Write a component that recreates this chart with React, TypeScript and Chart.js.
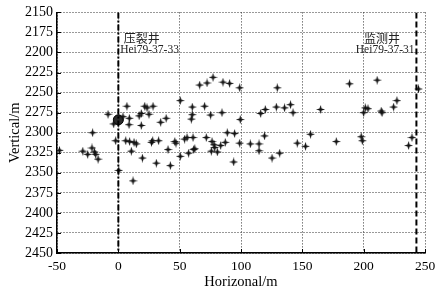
import React, { useEffect, useRef } from "react";
import { Chart, registerables } from "chart.js";

Chart.register(...registerables);

const xTicks = [-50, 0, 50, 100, 150, 200, 250];
const yTicks = [2150, 2175, 2200, 2225, 2250, 2275, 2300, 2325, 2350, 2375, 2400, 2425, 2450];

const eventsX = [
  -48, -29, -25, -21.5, -19.5, -18.5, -16.5, -21, -8.4, -3.8, 3.8, 7, 9, 8.7, 17, 18.7, 21.5, 23.4, 25, 28.3,
  18.7, 34.5, 39, 50.5, -2.2, 6, 9.2, 12.8, 14.7, 27, 28, 32.8, 46, 47, 54, 56, 10.6, 19.6, 40.5, 31,
  42.4, 50.5, 0.3, 12, 66.3, 72.3, 77.2, 85.3, 90.7, 98.9, 129.6, 60.3, 70.3, 60.3, 59.5, 75.2, 84.5, 99.4, 116, 119.8,
  128.8, 135.5, 140.4, 142.4, 60.9, 57.3, 61.4, 62.3, 71.7, 76.4, 78, 78.5, 75.8, 80.7, 83.4, 87.2, 88.8, 94.8, 98.9, 94,
  107.6, 114.7, 114.7, 119.2, 125.3, 131.5, 145.9, 152.6, 156.7, 188.5, 211, 244.7, 164.9, 201.3, 203.5, 200, 214.3, 215, 224.4, 227.1,
  177.7, 198, 198.9, 239.4, 236.6,
];
const eventsY = [
  2322, 2323, 2327, 2319, 2324, 2327, 2333, 2300, 2277, 2289, 2280, 2267, 2282, 2290, 2279, 2276, 2267, 2269, 2277, 2267,
  2291, 2287, 2282, 2260, 2310, 2310, 2311, 2312, 2314, 2312, 2310, 2310, 2311, 2313, 2308, 2306, 2323, 2331.6, 2321, 2338,
  2341, 2329.5, 2347, 2360, 2240.6, 2238, 2231, 2237, 2238.5, 2244, 2244, 2268, 2267, 2277.5, 2283, 2278, 2275, 2283.6, 2276, 2271,
  2268, 2269, 2265, 2275, 2306, 2325.5, 2321, 2320, 2306, 2311, 2315, 2318.5, 2323, 2324, 2316, 2312, 2300, 2301, 2313, 2336.5,
  2314, 2314, 2322.5, 2304, 2331.6, 2325.5, 2313, 2317, 2302, 2239, 2234.5, 2245.5, 2271, 2269, 2270, 2275, 2273, 2275, 2268, 2260,
  2311, 2305, 2310, 2306, 2316,
];

const fracWellX = [0];
const fracWellY = [2284];
const wellLineY = [2150, 2450];
const fracLineX = 0;
const monitorLineX = 243;

const labelTexts = ["压裂井", "Hei79-37-33", "监测井", "Hei79-37-31"];
const labelX = [19, 1.5, 215, 241.5];
const labelY = [2182, 2196.5, 2182, 2196.5];

const SERIF = "'Liberation Serif', 'Times New Roman', serif";
const CJK = "'Noto Sans CJK SC', sans-serif";

function makeStar(): HTMLCanvasElement {
  const c = document.createElement("canvas");
  c.width = 9;
  c.height = 9;
  const g = c.getContext("2d")!;
  const cx = 4.5, cy = 4.5, R = 4.5, r = 1.5;
  g.beginPath();
  for (let i = 0; i < 8; i++) {
    const a = (i * Math.PI) / 4 - Math.PI / 2;
    const rad = i % 2 === 0 ? R : r;
    const px = cx + rad * Math.cos(a);
    const py = cy + rad * Math.sin(a);
    if (i === 0) g.moveTo(px, py);
    else g.lineTo(px, py);
  }
  g.closePath();
  g.fillStyle = "#111";
  g.fill();
  return c;
}

const overlayPlugin = {
  id: "overlay",
  afterDatasetsDraw(chart: any) {
    const ctx = chart.ctx;
    const xs = chart.scales.x;
    const ys = chart.scales.y;
    const area = chart.chartArea;
    ctx.save();
    ctx.strokeStyle = "#000";
    ctx.lineWidth = 1;
    ctx.beginPath();
    xTicks.forEach((v) => {
      const p = Math.round(xs.getPixelForValue(v)) + 0.5;
      ctx.moveTo(p, area.bottom);
      ctx.lineTo(p, area.bottom - 4);
    });
    yTicks.forEach((v) => {
      const p = Math.round(ys.getPixelForValue(v)) + 0.5;
      ctx.moveTo(area.left, p);
      ctx.lineTo(area.left + 4, p);
    });
    ctx.stroke();
    ctx.fillStyle = "#222";
    ctx.textBaseline = "middle";
    labelTexts.forEach((t, i) => {
      const isCjk = i % 2 === 0;
      ctx.font = isCjk ? `12px ${CJK}` : `11.5px ${SERIF}`;
      ctx.textAlign = isCjk ? "center" : i === 1 ? "left" : "right";
      ctx.fillText(t, xs.getPixelForValue(labelX[i]), ys.getPixelForValue(labelY[i]));
    });
    ctx.restore();
  },
};

export default function App() {
  const ref = useRef<HTMLCanvasElement>(null);
  useEffect(() => {
    const star = makeStar();
    const points = eventsX.map((x, i) => ({ x, y: eventsY[i] }));
    const chart = new Chart(ref.current!, {
      type: "scatter",
      data: {
        datasets: [
          {
            type: "line",
            data: wellLineY.map((y) => ({ x: fracLineX, y })),
            borderColor: "#000",
            borderWidth: 2,
            borderDash: [6, 2, 2, 2],
            pointRadius: 0,
            showLine: true,
            fill: false,
          },
          {
            type: "line",
            data: wellLineY.map((y) => ({ x: monitorLineX, y })),
            borderColor: "#000",
            borderWidth: 2,
            borderDash: [6, 3],
            pointRadius: 0,
            showLine: true,
            fill: false,
          },
          {
            data: points,
            pointStyle: star as any,
            pointRadius: 4.5,
            showLine: false,
          },
          {
            data: fracWellX.map((x, i) => ({ x, y: fracWellY[i] })),
            pointStyle: "circle",
            pointRadius: 5,
            backgroundColor: "#2a2a2a",
            borderColor: "#000",
            borderWidth: 1,
          },
        ],
      },
      options: {
        animation: false,
        responsive: false,
        layout: { padding: { top: 9, right: 18, left: 0, bottom: 0 } },
        plugins: { legend: { display: false }, tooltip: { enabled: false } },
        scales: {
          x: {
            type: "linear",
            min: -50,
            max: 250,
            afterBuildTicks: (s: any) => {
              s.ticks = xTicks.map((v) => ({ value: v }));
            },
            afterFit: (s: any) => {
              s.height = 44;
            },
            grid: { color: "#333", lineWidth: 1, drawTicks: false },
            border: { display: true, color: "#000", width: 1.5, dash: [1, 2] },
            ticks: {
              color: "#000",
              padding: 5.6,
              font: { family: SERIF, size: 13.5 },
              callback: (v: any) => String(v),
            },
            title: {
              display: true,
              text: "Horizonal/m",
              color: "#000",
              font: { family: SERIF, size: 14.5, lineHeight: 1.2 },
              padding: { top: 0, bottom: 6.6 },
            },
          },
          y: {
            type: "linear",
            reverse: true,
            min: 2150,
            max: 2450,
            afterBuildTicks: (s: any) => {
              s.ticks = yTicks.map((v) => ({ value: v }));
            },
            afterFit: (s: any) => {
              s.width = 57;
            },
            grid: { color: "#333", lineWidth: 1, drawTicks: false },
            border: { display: true, color: "#000", width: 1.5, dash: [1, 2] },
            ticks: {
              color: "#000",
              padding: 4,
              font: { family: SERIF, size: 14 },
              callback: (v: any) => String(v),
            },
            title: {
              display: true,
              text: "Vertical/m",
              color: "#000",
              font: { family: SERIF, size: 14.5, lineHeight: 1.2 },
              padding: { top: 6, bottom: 0 },
            },
          },
        },
      },
      plugins: [overlayPlugin],
    });
    return () => chart.destroy();
  }, []);
  return (
    <div style={{ position: "absolute", left: 0, top: 0, width: 443, height: 297, background: "#fff" }}>
      <canvas ref={ref} width={443} height={297} />
    </div>
  );
}
